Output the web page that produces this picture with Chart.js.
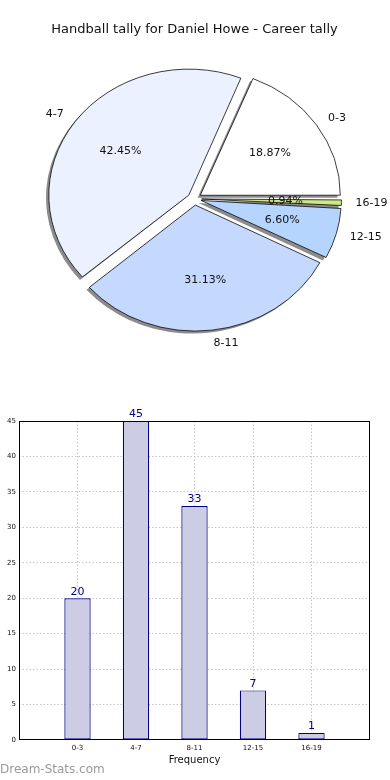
<!DOCTYPE html>
<html>
<head>
<meta charset="utf-8">
<script src="https://cdn.jsdelivr.net/npm/chart.js@4"></script>
<style>
  body { margin: 0; background: #fff; width: 390px; height: 780px; position: relative; overflow: hidden; }
  .box { position: absolute; left: 0; width: 390px; }
  #watermark { position: absolute; left: 0; top: 762px; font: 12px "DejaVu Sans", sans-serif; color: #9a9a9a; }
</style>
</head>
<body>
<div class="box" style="top:0;height:390px"><canvas id="pieChart"></canvas></div>
<div class="box" style="top:390px;height:390px"><canvas id="barChart"></canvas></div>
<div id="watermark">Dream-Stats.com</div>
<script>
var categories = ['0-3', '4-7', '8-11', '12-15', '16-19'];
var counts = [20, 45, 33, 7, 1];
var percentLabels = ['18.87%', '42.45%', '31.13%', '6.60%', '0.94%'];
var sliceColors = ['#ffffff', '#ebf1ff', '#c5d9ff', '#b5d5ff', '#cde985'];
var yTicks = [0, 5, 10, 15, 20, 25, 30, 35, 40, 45];

var FONT = '"DejaVu Sans", sans-serif';
var PIE_R = 140;
var squash = 126 / 140;   // the pie is drawn as an ellipse

// matplotlib goes counter-clockwise, chart.js clockwise: draw reversed from 3 o'clock
var pieOrder = categories.map(function (c, i) { return i; }).reverse();

function explodeOf(arc) {
    return arc.options.offset / 4;   // chart.js moves arcs by offset / 4
}

var ellipsePlugin = {
    id: 'ellipse',
    beforeDatasetsDraw: function (chart) {
        var ctx = chart.ctx, arcs = chart.getDatasetMeta(0).data, a = arcs[0];
        ctx.save();
        ctx.translate(a.x, a.y);
        ctx.scale(1, squash);
        ctx.translate(-a.x, -a.y);
        // chart.js grows small exploded arcs; keep every slice the same radius
        arcs.forEach(function (arc) {
            var off = explodeOf(arc);
            var fix = 1 - Math.sin(Math.min(Math.PI, arc.circumference));
            arc.outerRadius = PIE_R - off * fix;
        });
        // drop shadows, left and down
        ctx.fillStyle = 'rgba(0,0,0,0.45)';
        arcs.forEach(function (arc) {
            var mid = (arc.startAngle + arc.endAngle) / 2, off = explodeOf(arc);
            var px = arc.x + Math.cos(mid) * off - 2.8;
            var py = arc.y + Math.sin(mid) * off + 2.8;
            ctx.beginPath();
            ctx.moveTo(px, py);
            ctx.arc(px, py, PIE_R, arc.startAngle, arc.endAngle);
            ctx.closePath();
            ctx.fill();
        });
    },
    afterDatasetsDraw: function (chart) {
        var ctx = chart.ctx;
        ctx.restore();
        ctx.save();
        ctx.font = '11px ' + FONT;
        ctx.fillStyle = '#111';
        ctx.textBaseline = 'middle';
        chart.getDatasetMeta(0).data.forEach(function (arc, k) {
            var i = pieOrder[k];
            var mid = (arc.startAngle + arc.endAngle) / 2;
            var off = explodeOf(arc);
            var cx = arc.x + Math.cos(mid) * off;
            var cy = arc.y + Math.sin(mid) * off * squash;
            ctx.textAlign = 'center';
            ctx.fillText(percentLabels[i], cx + Math.cos(mid) * PIE_R * 0.6, cy + Math.sin(mid) * PIE_R * 0.6 * squash);
            ctx.textAlign = Math.cos(mid) >= 0 ? 'left' : 'right';
            ctx.fillText(categories[i], cx + Math.cos(mid) * PIE_R * 1.1, cy + Math.sin(mid) * PIE_R * 1.1 * squash);
        });
        ctx.restore();
    }
};

new Chart(document.getElementById('pieChart'), {
    type: 'pie',
    data: {
        labels: pieOrder.map(function (i) { return categories[i]; }),
        datasets: [{
            data: pieOrder.map(function (i) { return counts[i]; }),
            backgroundColor: pieOrder.map(function (i) { return sliceColors[i]; }),
            borderColor: '#000',
            borderWidth: 0.8,
            offset: 28
        }]
    },
    plugins: [ellipsePlugin],
    options: {
        responsive: true,
        maintainAspectRatio: false,
        animation: false,
        rotation: 90,
        radius: PIE_R,
        layout: { padding: { left: 0, right: 1, top: 0, bottom: 30 } },
        plugins: {
            legend: { display: false },
            tooltip: { enabled: false },
            title: {
                display: true,
                text: 'Handball tally for Daniel Howe - Career tally',
                color: '#111',
                font: { family: FONT, size: 13, weight: 'normal' },
                padding: { top: 22, bottom: 0 }
            }
        }
    }
});

var barExtras = {
    id: 'barExtras',
    afterDatasetsDraw: function (chart) {
        var ctx = chart.ctx, area = chart.chartArea;
        ctx.save();
        ctx.strokeStyle = '#000';
        ctx.lineWidth = 1;
        ctx.strokeRect(area.left + 0.5, area.top + 0.5, area.right - area.left - 1, area.bottom - area.top - 1);
        ctx.font = '11px ' + FONT;
        ctx.fillStyle = '#000080';
        ctx.textAlign = 'center';
        ctx.textBaseline = 'bottom';
        chart.getDatasetMeta(0).data.forEach(function (bar, i) {
            ctx.fillText(String(counts[i]), bar.x, bar.y - 1);
        });
        ctx.restore();
    }
};

new Chart(document.getElementById('barChart'), {
    type: 'bar',
    data: {
        datasets: [{
            data: counts.map(function (v, i) { return { x: i, y: v }; }),
            backgroundColor: '#ccccE4',
            borderColor: '#000080',
            borderWidth: 1.2,
            borderSkipped: false,
            barPercentage: 0.45,
            categoryPercentage: 1
        }]
    },
    plugins: [barExtras],
    options: {
        responsive: true,
        maintainAspectRatio: false,
        animation: false,
        layout: { padding: { left: 0, right: 20, top: 31, bottom: 0 } },
        plugins: { legend: { display: false }, tooltip: { enabled: false } },
        scales: {
            x: {
                type: 'linear',
                min: -1,
                max: 5,
                offset: false,
                afterFit: function (s) { s.height = 40; },
                afterBuildTicks: function (s) {
                    s.ticks = [-1, 0, 1, 2, 3, 4, 5].map(function (v) { return { value: v }; });
                },
                ticks: {
                    color: '#111',
                    font: { family: FONT, size: 7 },
                    padding: 4,
                    maxRotation: 0,
                    autoSkip: false,
                    callback: function (v) { return categories[v] || ''; }
                },
                grid: {
                    offset: false,
                    drawTicks: false,
                    color: function (c) {
                        var v = c.tick && c.tick.value;
                        return v >= 0 && v < categories.length ? '#c4c4c4' : 'rgba(0,0,0,0)';
                    }
                },
                border: { display: false, dash: [1.5, 2] },
                title: {
                    display: true,
                    text: 'Frequency',
                    color: '#111',
                    font: { family: FONT, size: 10 },
                    padding: { top: 0, bottom: 14 }
                }
            },
            y: {
                min: 0,
                max: 45,
                afterFit: function (s) { s.width = 19; },
                afterBuildTicks: function (s) {
                    s.ticks = yTicks.map(function (v) { return { value: v }; });
                },
                ticks: {
                    color: '#111',
                    font: { family: FONT, size: 7 },
                    padding: 3
                },
                grid: {
                    drawTicks: false,
                    color: function (c) {
                        var v = c.tick && c.tick.value;
                        return v > 0 && v < 45 ? '#c4c4c4' : 'rgba(0,0,0,0)';
                    }
                },
                border: { display: false, dash: [1.5, 2] }
            }
        }
    }
});
</script>
</body>
</html>
